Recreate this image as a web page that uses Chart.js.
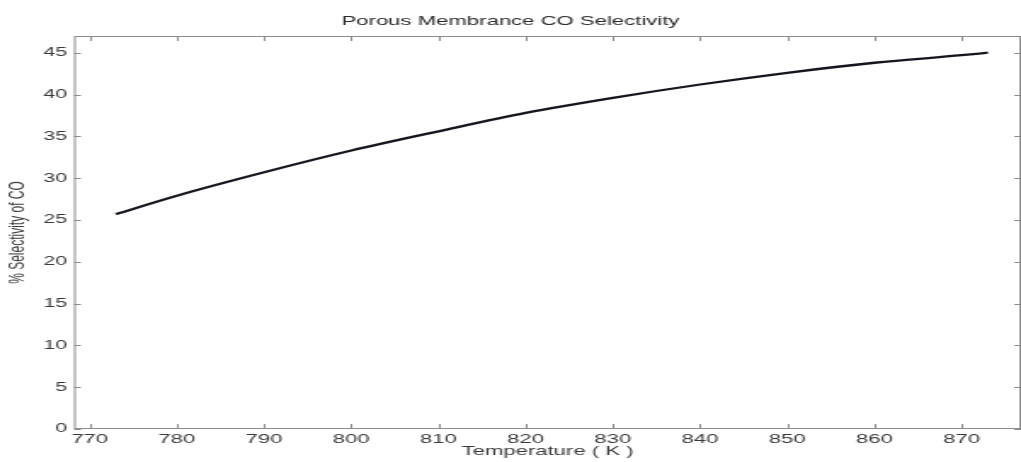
<!DOCTYPE html>
<html>
<head>
<meta charset="utf-8">
<script src="https://cdn.jsdelivr.net/npm/chart.js@4"></script>
<style>
  html, body { margin: 0; padding: 0; background: #fff; overflow: hidden; }
  /* the reference is a horizontally stretched figure, so the canvas is drawn narrow and stretched */
  #wrap { width: 600px; height: 462px; transform: scaleX(1.70167); transform-origin: 0 0; }
</style>
</head>
<body>
<div id="wrap"><canvas id="selectivityChart" width="600" height="462"></canvas></div>
<script>
const temperatures = [773, 780, 790, 800, 810, 820, 830, 840, 850, 860, 870, 873];
const coSelectivity = [25.7, 27.9, 30.7, 33.3, 35.6, 37.8, 39.6, 41.2, 42.6, 43.8, 44.7, 45.0];
const xTicks = [770, 780, 790, 800, 810, 820, 830, 840, 850, 860, 870];
const yTicks = [0, 5, 10, 15, 20, 25, 30, 35, 40, 45];

const boxColor = "#8c8c8c";
const textColor = "#3a3a3a";
const fontFamily = "'Liberation Sans', Arial, sans-serif";

// matlab style frame with ticks pointing inward
const framePlugin = {
  id: "frame",
  afterDatasetsDraw(chart) {
    const { ctx, chartArea, scales } = chart;
    const { left, right, top, bottom } = chartArea;
    ctx.save();
    ctx.strokeStyle = boxColor;
    ctx.lineWidth = 1;
    ctx.strokeRect(left + 0.5, top + 0.5, right - left - 1, bottom - top - 1);
    ctx.beginPath();
    xTicks.forEach((t) => {
      const px = Math.round(scales.x.getPixelForValue(t)) + 0.5;
      ctx.moveTo(px, bottom);
      ctx.lineTo(px, bottom - 5);
      ctx.moveTo(px, top);
      ctx.lineTo(px, top + 5);
    });
    yTicks.forEach((t) => {
      const py = Math.round(scales.y.getPixelForValue(t)) + 0.5;
      ctx.moveTo(left, py);
      ctx.lineTo(left + 4, py);
      ctx.moveTo(right, py);
      ctx.lineTo(right - 4, py);
    });
    ctx.stroke();
    ctx.restore();
  },
};

const ctx = document.getElementById("selectivityChart").getContext("2d");

new Chart(ctx, {
  type: "line",
  data: {
    datasets: [
      {
        label: "CO Selectivity",
        data: temperatures.map((t, i) => ({ x: t, y: coSelectivity[i] })),
        borderColor: "#15151f",
        borderWidth: 2.3,
        pointRadius: 0,
        cubicInterpolationMode: "monotone",
        fill: false,
      },
    ],
  },
  options: {
    responsive: false,
    animation: false,
    layout: { padding: 0 },
    plugins: {
      legend: { display: false },
      tooltip: { enabled: false },
      title: {
        display: true,
        text: "Porous Membrance CO Selectivity",
        color: "#2a2a2a",
        font: { family: fontFamily, size: 13, weight: "normal" },
        padding: { top: 14, bottom: 6.4 },
      },
    },
    scales: {
      x: {
        type: "linear",
        min: 768.2,
        max: 876.8,
        afterBuildTicks: (scale) => {
          scale.ticks = xTicks.map((v) => ({ value: v }));
        },
        afterFit: (scale) => {
          scale.height = 33;
        },
        grid: { display: false, drawTicks: false },
        border: { display: false },
        ticks: {
          color: textColor,
          padding: 3,
          maxRotation: 0,
          font: { family: fontFamily, size: 13 },
        },
        title: {
          display: true,
          text: "Temperature ( K )",
          color: textColor,
          padding: { top: 0, bottom: 3 },
          font: { family: fontFamily, size: 13 },
        },
      },
      y: {
        min: 0,
        max: 47,
        afterBuildTicks: (scale) => {
          scale.ticks = yTicks.map((v) => ({ value: v }));
        },
        afterFit: (scale) => {
          scale.width = 43.5;
        },
        grid: { display: false, drawTicks: false },
        border: { display: false },
        ticks: {
          color: textColor,
          padding: 4,
          font: { family: fontFamily, size: 12.5 },
        },
        title: {
          display: true,
          text: "% Selectivity of CO",
          color: textColor,
          padding: { top: 3.4, bottom: 0 },
          font: { family: fontFamily, size: 12 },
        },
      },
    },
  },
  plugins: [framePlugin],
});
</script>
</body>
</html>
